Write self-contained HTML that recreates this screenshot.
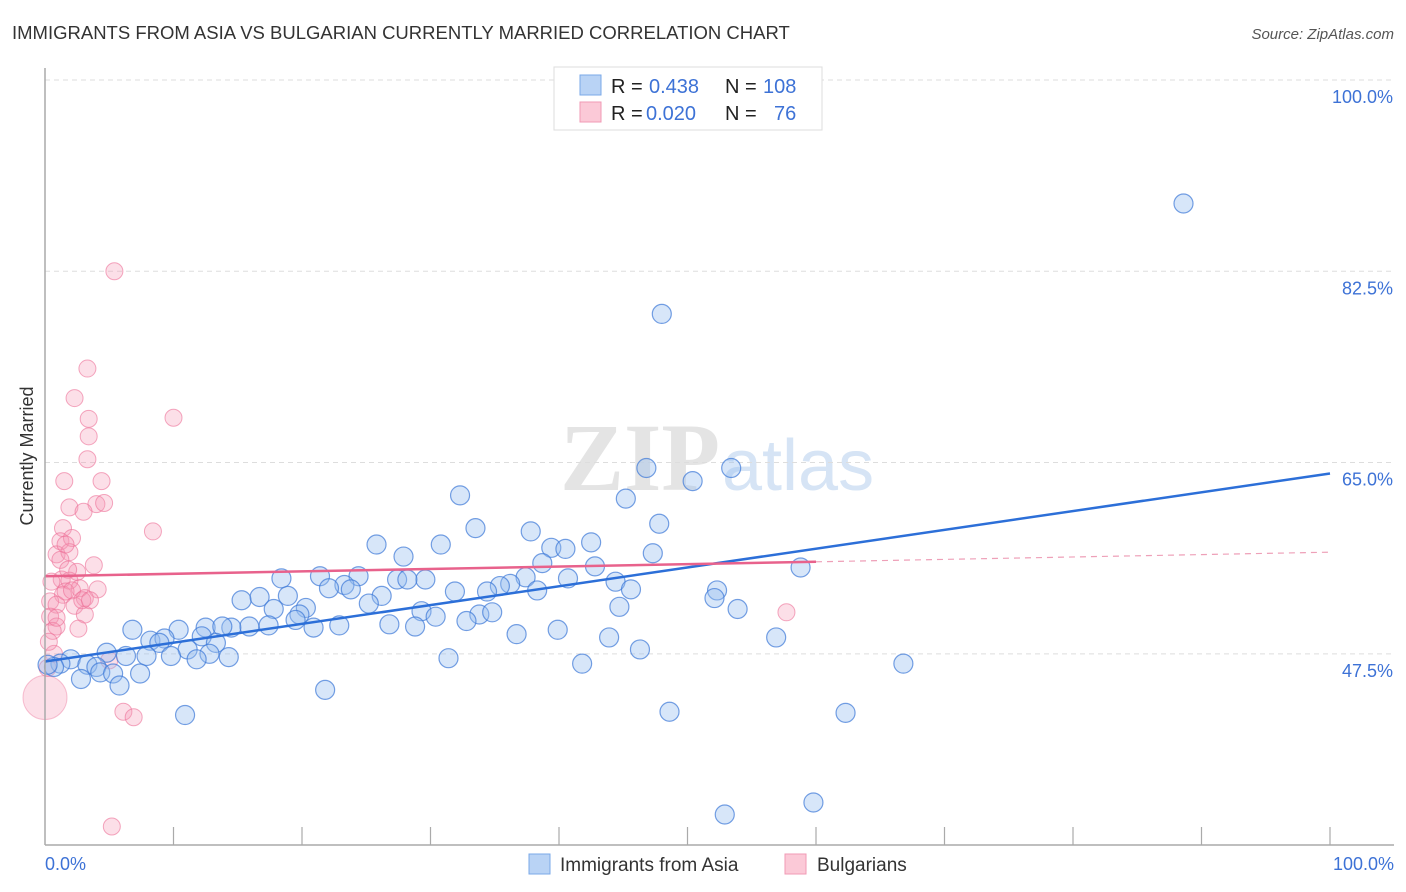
<!DOCTYPE html>
<html><head><meta charset="utf-8"><style>
body{margin:0;background:#fff;font-family:"Liberation Sans",sans-serif;}
svg{display:block}
</style></head><body>
<svg id="chart" width="1406" height="892">
<text x="12" y="39" font-size="18.5" fill="#333">IMMIGRANTS FROM ASIA VS BULGARIAN CURRENTLY MARRIED CORRELATION CHART</text>
<text x="1394" y="39" font-size="15" fill="#555" text-anchor="end" font-style="italic">Source: ZipAtlas.com</text>
<text x="720" y="490" font-size="96" fill="#e4e4e4" text-anchor="end" font-family="Liberation Serif,serif" font-weight="bold">ZIP</text>
<text x="722" y="490" font-size="72" fill="#d6e4f5">atlas</text>
<g id="grid"></g><g id="marks"></g><g id="lines"></g>
<line x1="45" y1="68" x2="45" y2="845" stroke="#aaa" stroke-width="1.5"/>
<line x1="45" y1="845" x2="1394" y2="845" stroke="#aaa" stroke-width="1.5"/>
<text x="33" y="456" font-size="18" fill="#333" text-anchor="middle" transform="rotate(-90 33 456)">Currently Married</text>
<text x="45" y="870" font-size="18" fill="#3d72d6">0.0%</text>
<text x="1394" y="870" font-size="18" fill="#3d72d6" text-anchor="end">100.0%</text>
<g>
<rect x="554" y="67" width="268" height="63" fill="#fff" stroke="#ddd"/>
<rect x="580" y="75" width="21" height="20" fill="#b9d3f5" stroke="#7aa8e8"/>
<rect x="580" y="102" width="21" height="20" fill="#fbc9d7" stroke="#f09ab4"/>
<text x="611" y="93" font-size="20" fill="#222">R = </text><text x="649" y="93" font-size="20" fill="#3d72d6">0.438</text>
<text x="725" y="93" font-size="20" fill="#222">N = </text><text x="763" y="93" font-size="20" fill="#3d72d6">108</text>
<text x="611" y="120" font-size="20" fill="#222">R = </text><text x="646" y="120" font-size="20" fill="#3d72d6">0.020</text>
<text x="725" y="120" font-size="20" fill="#222">N = </text><text x="774" y="120" font-size="20" fill="#3d72d6">76</text>
</g>
<g>
<rect x="529" y="854" width="21" height="20" fill="#b9d3f5" stroke="#7aa8e8"/>
<text x="560" y="871" font-size="19" fill="#333">Immigrants from Asia</text>
<rect x="785" y="854" width="21" height="20" fill="#fbc9d7" stroke="#f09ab4"/>
<text x="817" y="871" font-size="19" fill="#333">Bulgarians</text>
</g>
</svg>
<script>
const yTicks=[100,82.5,65,47.5];
const yTickLabels=["100.0%","82.5%","65.0%","47.5%"];
const xTicks=[10,20,30,40,50,60,70,80,90,100];
const asiaX=[88.6,48.0,46.8,53.4,50.4,32.3,45.2,47.8,33.5,37.8,25.8,30.8,42.5,39.4,40.5,47.3,27.9,38.7,42.8,58.8,21.4,18.4,24.4,29.6,27.4,28.2,23.3,22.1,23.8,40.7,37.4,44.4,36.2,35.4,34.4,38.3,45.6,52.3,52.1,26.2,15.3,16.7,18.9,25.2,17.8,20.3,31.9,44.7,53.9,29.3,19.8,33.8,34.8,30.4,32.8,17.4,15.9,14.5,26.8,28.8,22.9,19.5,20.9,12.5,13.8,10.4,6.8,8.2,9.3,8.9,12.2,13.3,11.1,12.8,7.9,9.8,11.8,6.3,4.8,14.3,39.9,36.7,43.9,56.9,46.3,31.4,41.8,66.8,2.0,1.2,0.7,3.3,4.0,4.3,5.3,2.8,7.4,5.8,21.8,48.6,62.3,10.9,52.9,59.8,0.2];
const asiaY=[88.7,78.6,64.5,64.5,63.3,62.0,61.7,59.4,59.0,58.7,57.5,57.5,57.7,57.2,57.1,56.7,56.4,55.8,55.5,55.4,54.6,54.4,54.6,54.3,54.3,54.3,53.8,53.5,53.4,54.4,54.5,54.1,53.9,53.7,53.2,53.3,53.4,53.3,52.6,52.8,52.4,52.7,52.8,52.1,51.6,51.7,53.2,51.8,51.6,51.4,51.1,51.1,51.3,50.9,50.5,50.1,50.0,49.9,50.2,50.0,50.1,50.6,49.9,49.9,50.0,49.7,49.7,48.7,48.9,48.5,49.1,48.5,47.9,47.5,47.3,47.3,47.0,47.3,47.6,47.2,49.7,49.3,49.0,49.0,47.9,47.1,46.6,46.6,47.0,46.6,46.3,46.5,46.3,45.8,45.7,45.2,45.7,44.6,44.2,42.2,42.1,41.9,32.8,33.9,46.5];
const bulgX=[5.4,3.3,2.3,10.0,3.4,3.4,3.3,1.5,4.4,1.9,4.0,4.6,3.0,8.4,1.4,1.2,2.1,0.9,3.8,1.9,2.5,1.3,1.9,0.5,4.1,2.7,1.4,3.1,0.4,0.9,2.3,3.1,0.4,0.9,2.6,0.6,0.7,0.3,0.2,5.0,6.1,6.9,5.2,57.7,1.6,1.2,2.1,2.9,1.6,3.5,0.9,1.8];
const bulgY=[82.5,73.6,70.9,69.1,69.0,67.4,65.3,63.3,63.3,60.9,61.2,61.3,60.5,58.7,59.0,57.8,58.1,56.6,55.6,56.8,55.0,54.3,54.2,54.1,53.4,53.5,52.9,52.6,52.3,52.0,51.9,51.1,50.9,50.0,49.8,49.6,47.5,48.6,46.2,46.9,42.2,41.7,31.7,51.3,53.2,56.1,53.3,52.4,57.5,52.4,50.8,55.2];
const bulgBig=[[0,43.5]];
const asiaTrend=[46.8,64.0];
const bulgTrend=[54.6,56.8];
const bulgSolidEnd=60;

const NS="http://www.w3.org/2000/svg";
const X=v=>45+v*12.85;
const Y=v=>80+(100-v)*10.93;
function mk(t,a,p){const e=document.createElementNS(NS,t);for(const k in a)e.setAttribute(k,a[k]);p.appendChild(e);return e;}
const grid=document.getElementById('grid'),marks=document.getElementById('marks'),lines=document.getElementById('lines');
yTicks.forEach((v,i)=>{
 const l=mk('line',{x1:45,x2:1394,y1:Y(v),y2:Y(v),stroke:'#ddd','stroke-dasharray':'5,4'},grid);
 
 
 const t=mk('text',{x:1393,y:Y(v)+23,'font-size':18,fill:'#3d72d6','text-anchor':'end'},grid);
 t.textContent=yTickLabels[i];
 
 
});
xTicks.forEach(v=>{
 const l=mk('line',{x1:X(v),x2:X(v),y1:827,y2:845,stroke:'#aaa','stroke-width':1.2},grid);
 
 
});
bulgX.forEach((v,i)=>{
 const c=mk('circle',{cx:X(v),cy:Y(bulgY[i]),r:8.5,fill:'rgba(244,150,180,0.3)',stroke:'rgba(236,110,150,0.6)','stroke-width':1},marks);
 
 
});
bulgBig.forEach(p=>{
 const c=mk('circle',{cx:X(p[0]),cy:Y(p[1]),r:22,fill:'rgba(244,150,180,0.3)',stroke:'rgba(236,110,150,0.4)'},marks);
 
 
});
asiaX.forEach((v,i)=>{
 const c=mk('circle',{cx:X(v),cy:Y(asiaY[i]),r:9.5,fill:'rgba(150,190,240,0.38)',stroke:'rgba(60,120,215,0.7)','stroke-width':1.2},marks);
 
 
});
const at=mk('line',{x1:X(0),y1:Y(asiaTrend[0]),x2:X(100),y2:Y(asiaTrend[1]),stroke:'#2c6fd8','stroke-width':2.5},lines);


const bm=bulgTrend[0]+(bulgTrend[1]-bulgTrend[0])*bulgSolidEnd/100;
const bt=mk('line',{x1:X(0),y1:Y(bulgTrend[0]),x2:X(bulgSolidEnd),y2:Y(bm),stroke:'#e8628c','stroke-width':2.5},lines);


const bd=mk('line',{x1:X(bulgSolidEnd),y1:Y(bm),x2:X(100),y2:Y(bulgTrend[1]),stroke:'#eea0b8','stroke-width':1.2,'stroke-dasharray':'6,5'},lines);


</script>
</body></html>
